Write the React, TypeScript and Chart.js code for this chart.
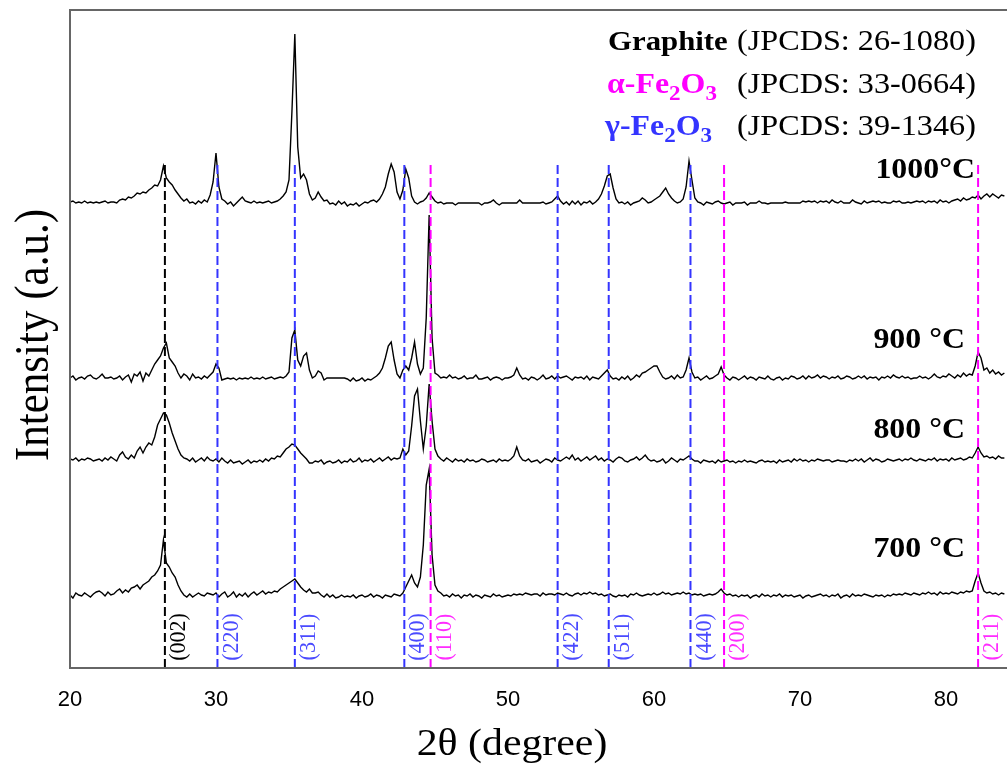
import { useEffect, useRef } from "react";
import { Chart, registerables } from "chart.js";

Chart.register(...registerables);

// 2θ sampling: scans start at 20° with a 0.2° step
const X_START = 20;
const X_STEP = 0.2;
const X_MIN = 20;
const X_MAX = 84.18;
const X_TICKS = [20, 30, 40, 50, 60, 70, 80];

// Sample names and vertical stacking offsets (a.u.)
const SAMPLES = ["1000°C", "900 °C", "800 °C", "700 °C"];
const OFFSETS = [466, 290, 207, 73];

// Diffracted intensity above each pattern's baseline (a.u.), one row per degree
const I_1000 = [
  0, 1, -1, 0, -1,
  1, -1, 0, -1, 0,
  -1, 0, 1, -1, 0,
  0, -1, 2, 3, 2,
  5, 4, 6, 9, 8,
  10, 9, 12, 14, 17,
  16, 22, 36, 24, 20,
  17, 12, 8, 4, 1,
  3, -1, 0, -2, 1,
  -1, 2, 0, 7, 20,
  49, 15, 3, 1, -2,
  0, -4, -1, 2, 5,
  1, 0, -1, 1, -1,
  0, -1, 0, 1, -1,
  0, 1, 3, 6, 10,
  22, 90, 168, 55, 24,
  28, 22, 8, 2, 4,
  10, 5, 1, 2, -2,
  -1, -3, 1, -2, 0,
  -4, -2, -3, -1, -4,
  -2, 0, -1, 1, 2,
  0, 3, 8, 15, 28,
  38, 30, 10, 3, 12,
  33, 24, 6, 0, -2,
  0, 1, 4, 9, 5,
  1, -1, 0, -2, -1,
  -1, -1, -3, -1, -1,
  -1, -1, -1, -1, -1,
  -1, -3, -1, -1, 0,
  2, -1, -3, -1, -1,
  -1, -1, -1, -1, 2,
  -1, -1, -1, -1, -1,
  -1, -1, 0, -2, -1,
  0, 3, 6, 1, -2,
  0, -3, 1, -2, 1,
  -3, 0, -1, 1, -2,
  0, 3, 8, 16, 26,
  28, 14, 3, -1, 0,
  -2, 0, -3, -1, 0,
  1, 4, 2, -1, 0,
  2, 4, 6, 10, 14,
  8, 4, 1, -1, 0,
  3, 15, 41, 22, 4,
  0, -1, -3, 0, -1,
  -2, 0, 1, -1, -2,
  -1, 0, -3, -1, -1,
  -1, 0, -3, -1, -1,
  -1, 1, -1, -1, -2,
  -1, -1, -1, -1, -1,
  0, -1, -1, -1, -1,
  -1, 1, 0, 1, 0,
  1, -1, 1, 0, 1,
  -1, 2, 0, -1, 1,
  -1, -1, -1, 2, 0,
  -1, -2, 1, -1, 0,
  1, 0, 1, -1, 0,
  -1, -1, 1, 0, 1,
  -1, -1, 0, -1, 0,
  1, 0, 1, -1, 1,
  0, 1, -1, 2, 0,
  1, -1, 1, 2, 3,
  1, 4, 2, 3, 5,
  4, 7, 3, 6, 8,
  5, 8, 6, 4, 7,
  6,
];

const I_900 = [
  0, 2, -2, 0, 1,
  -1, 2, 3, 0, -1,
  1, 4, 0, 0, 1,
  -1, 0, 2, -2, 1,
  3, -4, 4, 2, 6,
  -3, 5, 2, 8, 14,
  18, 22, 30, 35, 20,
  16, 12, 5, 0, 4,
  2, -2, 4, 0, 1,
  -1, 2, 0, 3, 6,
  14, 10, -2, -1, 0,
  -1, 0, -2, 0, -1,
  0, -1, 1, -1, 0,
  -1, 1, -1, 0, 1,
  -1, 0, 1, 0, 2,
  6, 40, 48, 18, 12,
  22, 25, 8, 0, 2,
  7, 5, -2, 0, 0,
  0, 0, 0, 0, 0,
  -1, -3, 0, -3, -2,
  0, -3, -1, -2, 0,
  2, 5, 10, 20, 32,
  36, 18, 4, 0, 8,
  12, 8, 20, 36, 14,
  4, 10, 60, 163, 40,
  5, 3, 0, 1, 0,
  3, 0, 1, -1, 0,
  2, -1, 0, 0, 3,
  -1, -1, 0, 1, -2,
  0, 1, 0, -2, 0,
  0, 1, 3, 10, 3,
  -1, 0, -2, 1, 0,
  -2, 0, 3, -1, 0,
  2, -1, 2, 0, 1,
  2, 0, -2, 1, 0,
  1, -1, 2, -2, 1,
  0, -1, 2, 5, 8,
  2, -1, 0, -2, 1,
  -1, 2, -2, 0, 3,
  1, 5, 6, 8, 10,
  12, 12, 6, 1, -1,
  0, 2, -1, 3, 0,
  1, 8, 20, 6, 0,
  1, -2, 0, 2, -1,
  0, 2, 4, 11, 3,
  0, -2, 1, 0, -2,
  0, 2, -1, 1, 0,
  -2, 1, 0, -1, 2,
  -1, -2, 0, 1, -2,
  0, -1, 2, 1, -1,
  0, 2, -1, 2, 0,
  1, 3, 0, 2, 1,
  -1, 1, 0, 2, -1,
  0, 2, 1, -1, 0,
  2, 0, 2, -1, 1,
  0, 1, -2, 1, 0,
  2, 0, 3, 1, 0,
  2, 0, 1, -1, 0,
  0, 2, 0, 1, -1,
  1, 4, 1, 0, 2,
  1, 4, 2, 0, 3,
  1, 5, 2, 4, 3,
  12, 26, 20, 8, 10,
  5, 8, 4, 6, 3,
  5,
];

const I_800 = [
  2, 1, 3, 0, 2,
  1, 3, 2, 0, 1,
  2, 0, 3, 1, 4,
  2, 0, 6, 9, 4,
  2, 6, 3, 10, 14,
  8, 14, 18, 16, 24,
  36, 42, 48, 46, 38,
  28, 20, 12, 6, 3,
  2, 0, 3, -1, 1,
  3, 0, 4, 1, 0,
  2, -1, 3, 0, -2,
  1, -2, -1, 0, -3,
  -1, 1, -2, 0, -1,
  1, -1, 2, 0, 3,
  2, 5, 4, 8, 12,
  14, 17, 16, 12, 8,
  5, 2, -2, -2, 0,
  -1, 1, -3, -1, 0,
  -2, -1, 1, -2, 0,
  -1, 2, -1, 0, 3,
  -1, 1, 0, 2, -1,
  1, 3, 0, 2, 4,
  1, 3, 2, 3, 12,
  6, 10, 35, 65, 72,
  40, 12, 35, 77, 40,
  12, 5, 2, 0, 3,
  1, -1, 2, 0, 1,
  -1, 2, 0, 1, -1,
  0, 2, 1, -1, 0,
  1, -1, 2, 0, 1,
  0, 2, 5, 14, 5,
  1, 0, 2, -1, 0,
  1, -2, 0, 2, 1,
  -1, 3, 1, 0, 2,
  4, 2, 6, 1, 3,
  0, 2, 4, 1, 3,
  5, 1, 3, 0, 2,
  1, -1, 2, 4, 3,
  0, -1, 1, 2, 4,
  1, 3, 6, 2, 0,
  1, -1, 0, 2, -2,
  0, 3, 1, -1, 2,
  1, 3, 5, 2, 0,
  0, -2, 1, 0, -1,
  0, -2, 1, -1, 0,
  1, -1, 0, -2, 0,
  -1, 1, -1, 0, -1,
  -2, 0, 1, -1, 0,
  -1, 0, -2, 1, -1,
  0, 1, -1, 2, 0,
  2, 0, 1, -1, 1,
  0, 2, 1, 0, 1,
  1, -1, 0, 1, 0,
  0, -1, 1, 0, 2,
  0, 2, -1, 1, 3,
  0, 2, 1, -1, 0,
  2, 1, 0, 1, 2,
  0, 2, 1, 3, 1,
  0, 2, 1, 0, 2,
  1, 3, 0, 2, 1,
  2, 0, 3, 1, 2,
  3, 1, 2, 4, 3,
  8, 14, 8, 4, 5,
  3, 4, 2, 5, 3,
  3,
];

const I_700 = [
  0, -3, 2, 0, -1,
  2, 0, -2, 1, 3,
  4, 2, -1, 3, 0,
  1, 4, 6, 2, 5,
  3, 7, 8, 10, 6,
  10, 12, 14, 18, 20,
  24, 30, 55, 32, 28,
  22, 18, 10, 4, 0,
  -2, 1, -2, 0, 2,
  0, -1, 2, 1, 0,
  2, -2, 1, 3, -2,
  0, 3, -2, 1, -1,
  2, -2, 1, 3, 0,
  2, 4, 1, 3, 2,
  4, 3, 6, 8, 10,
  12, 14, 16, 12, 8,
  5, 3, 6, 2, 2,
  3, 0, -2, 1, -2,
  0, -3, -2, 0, -2,
  -1, -2, 0, -3, -1,
  0, -2, -1, 1, -2,
  0, -1, -3, 0, -1,
  -2, 1, 0, -1, 2,
  8, 14, 20, 12, 8,
  18, 50, 110, 126, 40,
  10, 4, 2, -1, 0,
  -2, 1, -1, 0, -3,
  0, -1, 1, -2, 0,
  -1, -3, 0, -1, -2,
  1, -1, 0, -2, -1,
  0, -1, 1, 0, 1,
  0, 2, 1, 0, 1,
  1, -1, 2, 0, 1,
  1, 0, 2, 1, 0,
  2, 0, -1, 1, 2,
  0, 2, 1, 3, 1,
  2, 0, 1, -1, 0,
  1, -1, -2, 0, -1,
  0, -2, 1, 0, 2,
  0, -1, 0, 1, 0,
  2, 0, 1, 3, 1,
  2, 0, 1, 2, 1,
  3, 1, 2, 0, 1,
  0, 1, -1, 0, 1,
  0, 1, 3, 6, 2,
  0, 1, -1, 0, -2,
  0, -1, 0, -3, -1,
  0, -2, 1, -1, 0,
  -2, 0, -1, 1, -2,
  0, -1, 0, -2, -1,
  0, -3, -1, 0, -2,
  -1, 0, 1, -1, 0,
  -2, 0, -1, 1, -3,
  -1, 0, -2, 1, -1,
  0, -1, 1, 0, -1,
  -2, 0, -1, 0, -2,
  0, -1, 1, 0, 1,
  0, 2, 1, 0, 2,
  1, 0, 2, 1, 3,
  1, 2, 0, 3, 1,
  2, 1, 3, 2, 1,
  3, 2, 4, 3, 4,
  14, 22, 12, 4, 2,
  3, 1, 2, 0, 2,
  1,
];

const PATTERNS = [I_1000, I_900, I_800, I_700];

// Reference reflections (2θ), Miller indices and phase
const REF_POS = [26.5, 30.1, 35.4, 42.9, 44.7, 53.4, 56.9, 62.5, 64.8, 82.2];
const REF_HKL = ["(002)", "(220)", "(311)", "(400)", "(110)", "(422)", "(511)", "(440)", "(200)", "(211)"];
const REF_PHASE = ["C", "G", "G", "G", "A", "G", "G", "G", "A", "A"];
const REF_TOP = 505;

const Y_MIN = 0;
const Y_MAX = 658;

const PHASE_COLOR: Record<string, string> = { C: "#000000", G: "#3434ff", A: "#ff00ff" };
const PHASE_TEXT: Record<string, string> = { C: "#000000", G: "#4a4aff", A: "#ff2cff" };

const SERIF = "'Liberation Serif', 'Times New Roman', serif";
const SANS = "'Liberation Sans', Arial, sans-serif";

function drawText(
  ctx: CanvasRenderingContext2D,
  s: string,
  x: number,
  y: number,
  font: string,
  color: string,
  align: CanvasTextAlign = "left",
  sx = 1,
  rot = 0,
  baseline: CanvasTextBaseline = "alphabetic"
) {
  ctx.save();
  ctx.translate(x, y);
  ctx.scale(sx, 1);
  if (rot) ctx.rotate(rot);
  ctx.font = font;
  ctx.fillStyle = color;
  ctx.textAlign = align;
  ctx.textBaseline = baseline;
  ctx.fillText(s, 0, 0);
  ctx.restore();
}

// Draws a formula such as α-Fe2O3 with lowered subscripts
function drawFormula(
  ctx: CanvasRenderingContext2D,
  parts: [string, boolean][],
  x: number,
  y: number,
  size: number,
  subSize: number,
  color: string,
  sx: number
) {
  let cx = x;
  for (const [s, sub] of parts) {
    const font = `bold ${sub ? subSize : size}px ${SERIF}`;
    ctx.font = font;
    const w = ctx.measureText(s).width * sx;
    drawText(ctx, s, cx, sub ? y + 7 : y, font, color, "left", sx);
    cx += w;
  }
}

const decorations = {
  id: "decorations",
  afterDraw(chart: Chart) {
    const ctx = chart.ctx;
    const { left, right, top, bottom } = chart.chartArea;
    const xs = chart.scales.x;

    // plot frame (left, top, bottom)
    ctx.save();
    ctx.strokeStyle = "#666666";
    ctx.lineWidth = 2;
    ctx.beginPath();
    ctx.moveTo(right + 2, top);
    ctx.lineTo(left, top);
    ctx.lineTo(left, bottom);
    ctx.lineTo(right + 2, bottom);
    ctx.stroke();
    ctx.restore();

    // Miller indices next to the reference lines
    REF_POS.forEach((p, i) => {
      const px = xs.getPixelForValue(p);
      drawText(ctx, REF_HKL[i], px + 14, 637, `22px ${SERIF}`, PHASE_TEXT[REF_PHASE[i]], "center", 1.05, -Math.PI / 2, "middle");
    });

    // sample labels
    const sampleY = [178, 348, 438, 557];
    const sampleRight = [975, 965, 965, 965];
    SAMPLES.forEach((s, i) => {
      drawText(ctx, s, sampleRight[i], sampleY[i], `bold 29px ${SERIF}`, "#000000", "right", 1.1);
    });

    // phase key
    const sx = 1.1;
    drawText(ctx, "Graphite", 608, 50, `bold 28px ${SERIF}`, "#000000", "left", sx);
    drawText(ctx, "(JPCDS: 26-1080)", 737, 50, `28.5px ${SERIF}`, "#000000", "left", 1.13);
    drawFormula(ctx, [["α-Fe", false], ["2", true], ["O", false], ["3", true]], 607, 93, 29, 21, "#ff00ff", sx);
    drawText(ctx, "(JPCDS: 33-0664)", 737, 93, `28.5px ${SERIF}`, "#000000", "left", 1.13);
    drawFormula(ctx, [["γ-Fe", false], ["2", true], ["O", false], ["3", true]], 605, 135, 29, 21, "#3434ff", sx);
    drawText(ctx, "(JPCDS: 39-1346)", 737, 135, `28.5px ${SERIF}`, "#000000", "left", 1.13);

    // axis titles
    drawText(ctx, "2θ (degree)", 512, 755, `38px ${SERIF}`, "#000000", "center", 1.1);
    drawText(ctx, "Intensity (a.u.)", 48, 335, `43px ${SERIF}`, "#000000", "center", 1.15, -Math.PI / 2);
  },
};

export default function App() {
  const ref = useRef<HTMLCanvasElement | null>(null);

  useEffect(() => {
    if (!ref.current) return;

    const traces = PATTERNS.map((vals, k) => ({
      label: SAMPLES[k],
      data: vals.map((v, i) => ({ x: X_START + i * X_STEP, y: v + OFFSETS[k] })),
      borderColor: "#000000",
      borderWidth: 1.4,
      pointRadius: 0,
      tension: 0,
      order: 2,
    }));

    const refLines = REF_POS.map((p, i) => ({
      label: REF_HKL[i],
      data: [
        { x: p, y: Y_MIN },
        { x: p, y: REF_TOP },
      ],
      borderColor: PHASE_COLOR[REF_PHASE[i]],
      borderWidth: 2,
      borderDash: [9, 4],
      pointRadius: 0,
      order: 1,
    }));

    const chart = new Chart(ref.current, {
      type: "line",
      data: { datasets: [...refLines, ...traces] as any },
      options: {
        animation: false,
        responsive: false,
        parsing: false as any,
        layout: { padding: { left: 70, top: 10, right: 0, bottom: 0 } },
        plugins: { legend: { display: false }, tooltip: { enabled: false } },
        scales: {
          x: {
            type: "linear",
            min: X_MIN,
            max: X_MAX,
            grid: { display: false, drawTicks: false },
            border: { display: false },
            ticks: {
              includeBounds: false,
              padding: 19,
              color: "#000000",
              font: { family: SANS, size: 22 },
              maxRotation: 0,
            },
            afterBuildTicks: (scale: any) => {
              scale.ticks = X_TICKS.map((v) => ({ value: v }));
            },
            afterFit: (scale: any) => {
              scale.height = 96;
            },
          },
          y: {
            type: "linear",
            min: Y_MIN,
            max: Y_MAX,
            display: false,
          },
        },
      },
      plugins: [decorations],
    });

    return () => chart.destroy();
  }, []);

  return (
    <div style={{ position: "fixed", left: 0, top: 0, width: 1007, height: 764, background: "#ffffff" }}>
      <canvas ref={ref} width={1007} height={764} />
    </div>
  );
}
